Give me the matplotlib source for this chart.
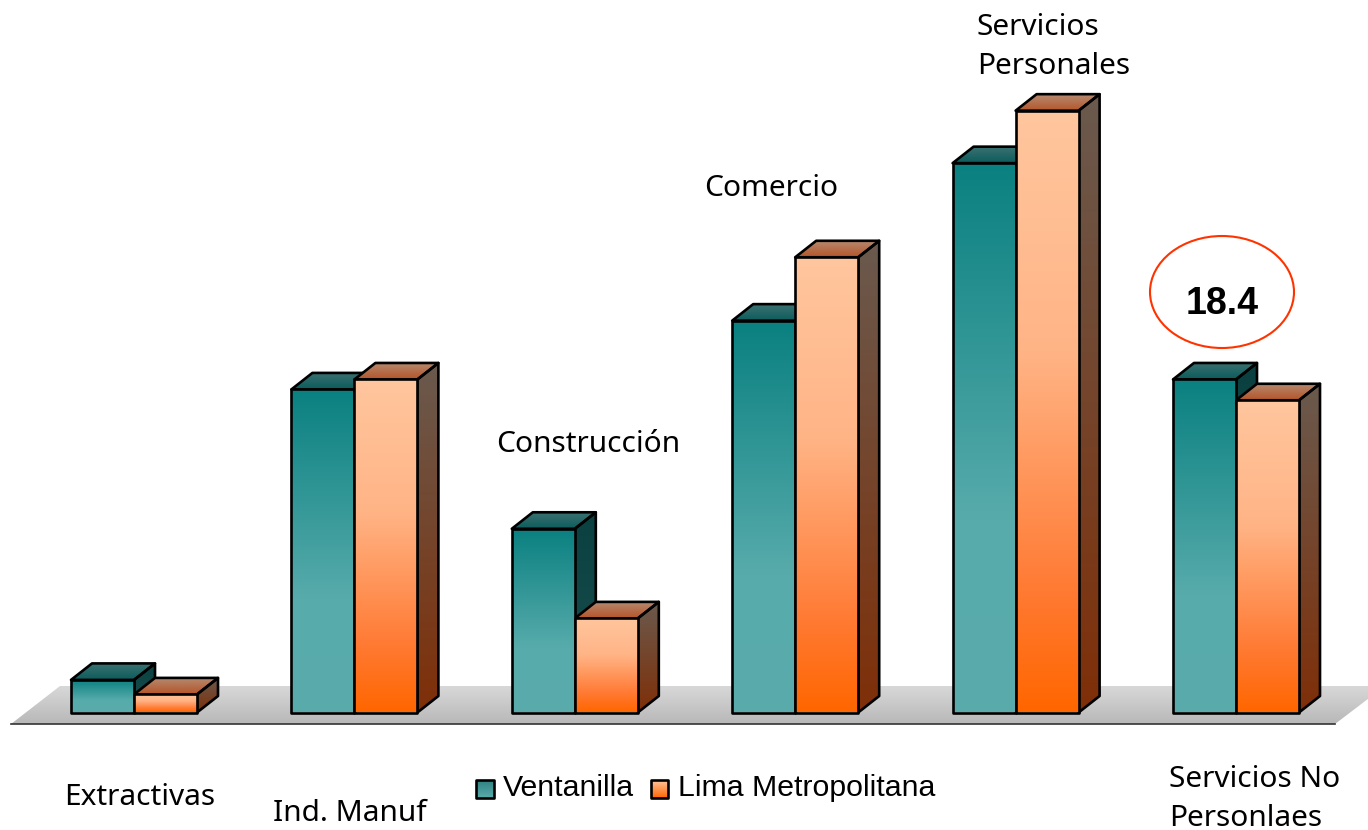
import numpy as np
import matplotlib
matplotlib.use("Agg")
import matplotlib.pyplot as plt
from matplotlib.colors import LinearSegmentedColormap
from matplotlib.patches import Polygon, Ellipse

categories = ["Extractivas", "Ind. Manuf", "Construcción", "Comercio", "Servicios\nPersonales", "Servicios No\nPersonlaes"]
ventanilla = [1.8, 17.85, 10.15, 21.65, 30.35, 18.4]
lima = [1.0, 18.4, 5.2, 25.15, 33.25, 17.25]
series_names = ["Ventanilla", "Lima Metropolitana"]

label_pos = [(64, 797), (273, 813), (496, 444), (704, 189), (977, 47), (1169, 799)]

# top to bottom colours of each face
teal = {"front": [(0, "#0a8080"), (0.65, "#58abab"), (1, "#5aacac")],
        "side": [(0, "#0a4040"), (1, "#1a5050")],
        "top": [(0, "#3d7272"), (1, "#0c5c5c")]}
orange = {"front": [(0, "#ffc69e"), (0.4, "#ffb486"), (0.8, "#ff7a33"), (1, "#ff6600")],
          "side": [(0, "#6a5a4e"), (1, "#7f2f08")],
          "top": [(0, "#b58c72"), (1, "#b5552a")]}
floor_cols = [(0, "#d8d8d8"), (1, "#b8b8b8")]

W, H = 1368, 830
fig = plt.figure(figsize=(W / 100, H / 100), dpi=100)

# pixel axes for floor, labels and legend
px = fig.add_axes([0, 0, 1, 1], zorder=0)
px.axis("off")

# value axes for the bars: 220.4 px per category, 18.1 px per unit
ax = fig.add_axes([0, 0, 1, 1], zorder=1)
ax.patch.set_alpha(0)
xlim = (-134 / 220.4, (W - 134) / 220.4)
ylim = (-(H - 712.5) / 18.1, 712.5 / 18.1)
ax.axis("off")

bar_w = 63 / 220.4
dx = 21 / 220.4
dy = 16.5 / 18.1


def shaded(axes, pts, cols, z, lw=1.9):
    pts = np.array(pts)
    cmap = LinearSegmentedColormap.from_list("g", cols)
    grad = np.linspace(0, 1, 256).reshape(-1, 1)
    ext = (pts[:, 0].min(), pts[:, 0].max(), pts[:, 1].min(), pts[:, 1].max())
    if axes is px:
        ext = (ext[0], ext[1], ext[3], ext[2])
    im = axes.imshow(grad, cmap=cmap, extent=ext, origin="upper", aspect="auto", zorder=z, interpolation="bilinear")
    edge = Polygon(pts, closed=True, facecolor="none", edgecolor="black", lw=lw, joinstyle="round", zorder=z + 0.1)
    axes.add_patch(edge)
    im.set_clip_path(edge)


def bar3d(x0, v, colors, z):
    x1 = x0 + bar_w
    shaded(ax, [(x1, 0), (x1 + dx, dy), (x1 + dx, v + dy), (x1, v)], colors["side"], z)
    shaded(ax, [(x0, v), (x0 + dx, v + dy), (x1 + dx, v + dy), (x1, v)], colors["top"], z)
    shaded(ax, [(x0, 0), (x1, 0), (x1, v), (x0, v)], colors["front"], z + 0.5)


# floor
floor = Polygon([(11, 724), (1335, 724), (1385, 686), (60, 686)], closed=True, facecolor="none", edgecolor="none")
px.add_patch(floor)
cmap = LinearSegmentedColormap.from_list("f", floor_cols)
im = px.imshow(np.linspace(0, 1, 64).reshape(-1, 1), cmap=cmap, extent=(11, 1385, 724, 686), origin="upper", aspect="auto", zorder=1)
im.set_clip_path(floor)
px.plot([11, 1335], [724, 724], color="#333333", lw=1.2, zorder=2)

for i in range(len(categories)):
    bar3d(i - bar_w, ventanilla[i], teal, 3 + i)
    bar3d(i, lima[i], orange, 3.2 + i)

ax.set_xlim(xlim)
ax.set_ylim(ylim)

# category labels
for name, (lx, ly) in zip(categories, label_pos):
    px.text(lx, ly, name, fontsize=21.5, family="Noto Sans", ha="left", va="center", linespacing=1.42, zorder=5)

# circled value
px.add_patch(Ellipse((1222, 292), 144, 112, facecolor="white", edgecolor="#ff3300", lw=1.5, zorder=4))
px.text(1222, 304, "18.4", fontsize=27, fontweight="bold", family="Liberation Sans", ha="center", va="center", zorder=5)

# legend
shaded(px, [(476, 780), (494, 780), (494, 798), (476, 798)], [(0, "#2f8080"), (1, "#5aacac")], 5)
shaded(px, [(651, 780), (668, 780), (668, 798), (651, 798)], [(0, "#ffc69e"), (1, "#ff6600")], 5)
px.text(503, 788, series_names[0], fontsize=21.8, family="Liberation Sans", ha="left", va="center", zorder=5)
px.text(678, 788, series_names[1], fontsize=21.8, family="Liberation Sans", ha="left", va="center", zorder=5)

px.set_xlim(0, W)
px.set_ylim(H, 0)

fig.savefig("out.png", dpi=100)
